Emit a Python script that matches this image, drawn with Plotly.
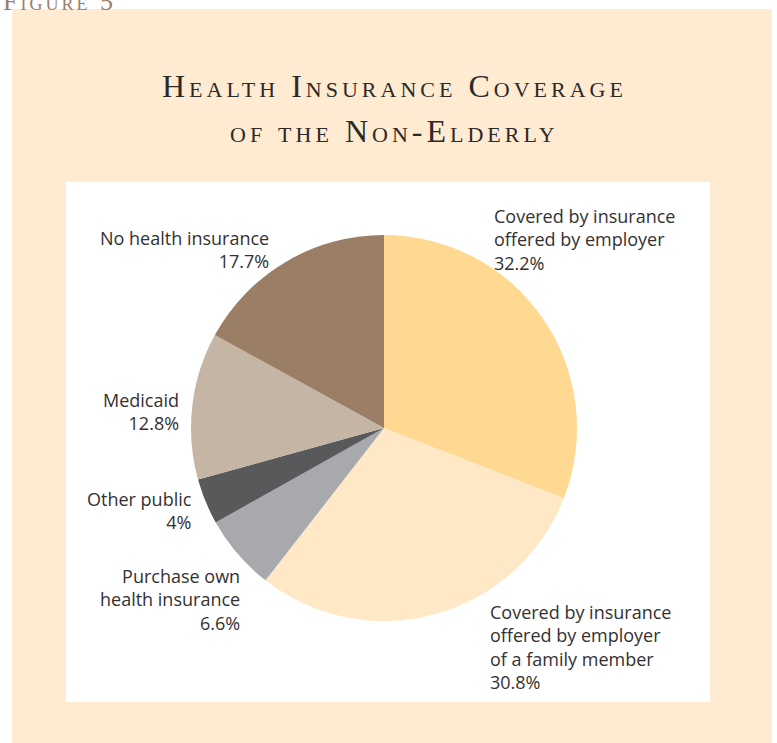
import plotly.graph_objects as go

W, H = 777, 743

# slice data, clockwise from 12 o'clock
categories = [
    "Covered by insurance<br>offered by employer",
    "Covered by insurance<br>offered by employer<br>of a family member",
    "Purchase own<br>health insurance",
    "Other public",
    "Medicaid",
    "No health insurance",
]
shares = [32.2, 30.8, 6.6, 4, 12.8, 17.7]
share_labels = ["32.2%", "30.8%", "6.6%", "4%", "12.8%", "17.7%"]
slice_colors = ["#FFD991", "#FFE8C5", "#A7A9AC", "#58595B", "#C4B5A5", "#9B7E66"]

# label placement in pixels: (x, y top, anchor)
label_pos = [
    (492, 202, "left"),
    (488, 598, "left"),
    (242, 562, "right"),
    (194, 485, "right"),
    (181, 386, "right"),
    (271, 224, "right"),
]


def px_x(x):
    return x / W


def px_y(y):
    return 1 - y / H


cx, cy, r = 384, 428, 193

fig = go.Figure(
    go.Pie(
        labels=[c.replace("<br>", " ") for c in categories],
        values=shares,
        sort=False,
        direction="clockwise",
        rotation=0,
        marker=dict(colors=slice_colors, line=dict(width=0)),
        textinfo="none",
        hoverinfo="label+value",
        showlegend=False,
        domain=dict(x=[px_x(cx - r), px_x(cx + r)], y=[px_y(cy + r), px_y(cy - r)]),
    )
)

annotations = []
for cat, lab, (x, y, side) in zip(categories, share_labels, label_pos):
    annotations.append(dict(
        x=px_x(x), y=px_y(y), xref="paper", yref="paper",
        xanchor=side, yanchor="top", align=side,
        text=f"{cat}<br>{lab}", showarrow=False,
        font=dict(family="Open Sans", size=18, color="#333132"),
    ))

title_font = dict(family="Liberation Serif", size=32, color="#2B2A29", variant="small-caps")
annotations.append(dict(x=px_x(394), y=px_y(86), xref="paper", yref="paper",
                        xanchor="center", yanchor="middle", showarrow=False,
                        text="Health Insurance Coverage", font=title_font))
annotations.append(dict(x=px_x(394), y=px_y(131), xref="paper", yref="paper",
                        xanchor="center", yanchor="middle", showarrow=False,
                        text="of the Non-Elderly", font=title_font))
annotations.append(dict(x=px_x(13), y=px_y(1), xref="paper", yref="paper",
                        xanchor="left", yanchor="middle", showarrow=False,
                        text="Figure 5",
                        font=dict(family="Liberation Serif", size=26, color="#9B7E66",
                                  variant="small-caps")))

shapes = [
    dict(type="rect", xref="paper", yref="paper", layer="below",
         x0=px_x(12), x1=px_x(772), y0=0, y1=px_y(9),
         fillcolor="#FEEBD1", line=dict(width=0)),
    dict(type="rect", xref="paper", yref="paper", layer="below",
         x0=px_x(66), x1=px_x(710), y0=px_y(702), y1=px_y(182),
         fillcolor="white", line=dict(width=0)),
]

fig.update_layout(
    width=W, height=H,
    margin=dict(l=0, r=0, t=0, b=0),
    paper_bgcolor="white",
    plot_bgcolor="white",
    shapes=shapes,
    annotations=annotations,
)

# no page margin; tracked-out serif headings like the printed figure
post = """
document.body.style.margin = '0';
document.querySelectorAll('.annotation-text').forEach(function (t) {
  var s = t.getAttribute('data-unformatted') || '';
  if (s.indexOf('Health Insurance') === 0 || s.indexOf('of the') === 0) {
    t.style.letterSpacing = '4px';
  } else if (s.indexOf('Figure') === 0) {
    t.style.letterSpacing = '3px';
  }
});
"""
fig.write_html("out.html", post_script=post, config={"displayModeBar": False})
